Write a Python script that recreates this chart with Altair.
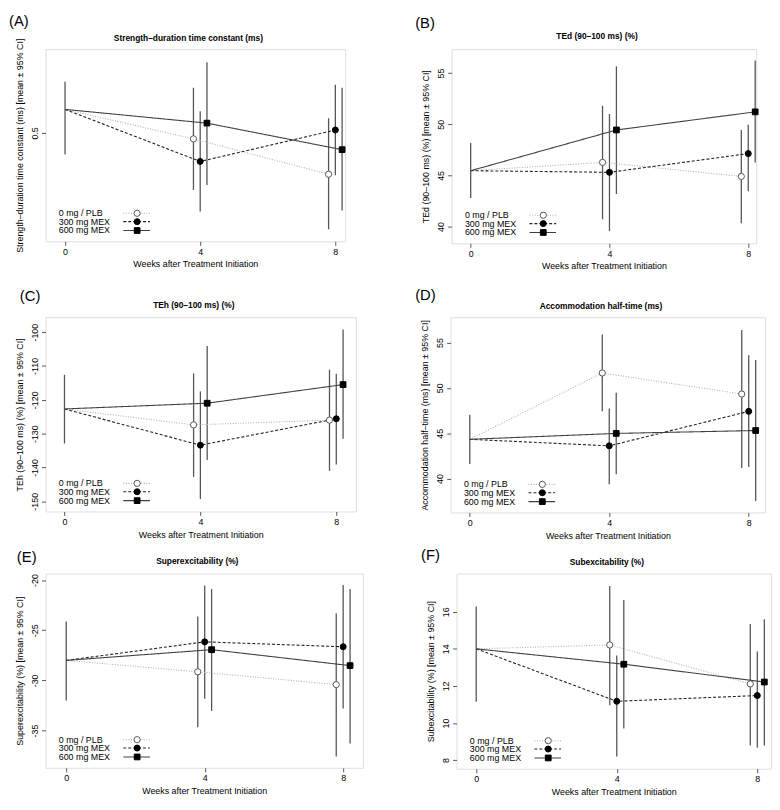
import altair as alt
import pandas as pd

FONT = "Liberation Sans"

groups = ["0 mg / PLB", "300 mg MEX", "600 mg MEX"]
weeks = [4, 8]
dodge = [-0.2, 0.0, 0.2]
x_ticks = [0, 4, 8]
x_title = "Weeks after Treatment Initiation"

# ---- Panel A: Strength-duration time constant (ms)
a_base = [0.524, 0.478, 0.552]          # mean, lower, upper at week 0
a_mean = [[0.494, 0.458], [0.471, 0.503], [0.510, 0.483]]
a_lo = [[0.442, 0.402], [0.420, 0.457], [0.447, 0.421]]
a_hi = [[0.546, 0.515], [0.522, 0.549], [0.572, 0.546]]
a_ticks = [0.5]

# ---- Panel B: TEd (90-100 ms) (%)
b_base = [45.46, 42.8, 48.16]
b_mean = [[46.27, 44.9], [45.3, 47.13], [49.44, 51.21]]
b_lo = [[40.7, 40.33], [39.56, 43.44], [43.18, 46.26]]
b_hi = [[51.8, 49.44], [51.0, 49.96], [55.65, 56.22]]
b_ticks = [40, 45, 50, 55]

# ---- Panel C: TEh (90-100 ms) (%)
c_base = [-122.7, -132.9, -112.6]
c_mean = [[-127.4, -126.0], [-133.4, -125.6], [-121.0, -115.5]]
c_lo = [[-142.8, -141.0], [-149.3, -139.1], [-137.8, -131.5]]
c_hi = [[-112.2, -111.1], [-117.5, -112.3], [-104.1, -99.2]]
c_ticks = [-150, -140, -130, -120, -110, -100]

# ---- Panel D: Accommodation half-time (ms)
d_base = [44.33, 41.62, 47.04]
d_mean = [[51.64, 49.32], [43.61, 47.41], [44.98, 45.30]]
d_lo = [[47.41, 41.16], [39.38, 41.29], [40.47, 37.54]]
d_hi = [[55.87, 56.37], [47.73, 53.59], [49.47, 53.08]]
d_ticks = [40, 45, 50, 55]

# ---- Panel E: Superexcitability (%)
e_base = [-28.01, -32.0, -24.12]
e_mean = [[-29.15, -30.42], [-26.16, -26.65], [-26.94, -28.53]]
e_lo = [[-34.67, -37.59], [-31.84, -32.81], [-33.05, -36.29]]
e_hi = [[-23.63, -23.31], [-20.55, -20.49], [-20.88, -20.88]]
e_ticks = [-35, -30, -25, -20]

# ---- Panel F: Subexcitability (%)
f_base = [14.0, 11.14, 16.29]
f_mean = [[14.21, 12.11], [11.17, 11.48], [13.17, 12.21]]
f_lo = [[10.95, 8.79], [8.19, 8.66], [9.70, 8.79]]
f_hi = [[17.39, 15.34], [13.64, 13.86], [16.64, 15.6]]
f_ticks = [8, 10, 12, 14, 16]

CI = "  [mean \u00b1 95% CI]"

color_scale = alt.Scale(domain=groups, range=["#b0b0b0", "#222222", "#404040"])
dash_scale = alt.Scale(domain=groups, range=[[1, 1.6], [3, 2], [1, 0]])
shape_scale = alt.Scale(domain=groups, range=["circle", "circle", "square"])
fill_scale = alt.Scale(domain=groups, range=["white", "black", "black"])
stroke_scale = alt.Scale(domain=groups, range=["#555555", "black", "black"])
size_scale = alt.Scale(domain=groups, range=[40, 34, 50])


def make_panel(letter, title, ytitle, base, mean, lo, hi, yticks,
               xdom, ydom, w, h, lab_dx, lab_dy, title_dy):
    line_rows, pt_rows, bar_rows = [], [], []
    bar_rows.append(dict(x=0.0, lo=base[1], hi=base[2]))
    for gi, g in enumerate(groups):
        line_rows.append(dict(group=g, x=0.0, y=base[0]))
        for wi, wk in enumerate(weeks):
            xx = wk + dodge[gi]
            line_rows.append(dict(group=g, x=xx, y=mean[gi][wi]))
            pt_rows.append(dict(group=g, x=xx, y=mean[gi][wi]))
            bar_rows.append(dict(x=xx, lo=lo[gi][wi], hi=hi[gi][wi]))
    line_df = pd.DataFrame(line_rows)
    pt_df = pd.DataFrame(pt_rows)
    bar_df = pd.DataFrame(bar_rows)

    xs = alt.Scale(domain=xdom, nice=False, zero=False)
    ys = alt.Scale(domain=ydom, nice=False, zero=False)
    xax = alt.Axis(values=x_ticks, title=x_title, grid=False, domain=False,
                   tickSize=4, tickColor="#555555", labelPadding=2,
                   titlePadding=4, labelFontSize=9, titleFontSize=9,
                   titleFontWeight="normal", labelFont=FONT, titleFont=FONT,
                   labelColor="black", titleColor="black", labelExpr="'' + datum.value")
    yax = alt.Axis(values=yticks, title=ytitle, grid=False, domain=False,
                   tickSize=4, tickColor="#555555", labelPadding=2,
                   labelAngle=270, labelAlign="center", labelBaseline="bottom",
                   titlePadding=7, labelFontSize=9, titleFontSize=9,
                   titleFontWeight="normal", labelFont=FONT, titleFont=FONT,
                   labelColor="black", titleColor="black",
                   labelExpr="'' + datum.value", minExtent=14, maxExtent=14)

    X = lambda f: alt.X(f, scale=xs, axis=xax)
    Y = lambda f: alt.Y(f, scale=ys, axis=yax)

    bars = alt.Chart(bar_df).mark_rule(color="#555555", strokeWidth=1.3).encode(
        x=X("x:Q"), y=Y("lo:Q"), y2="hi:Q")
    lines = alt.Chart(line_df).mark_line(strokeWidth=1.1).encode(
        x=X("x:Q"), y=Y("y:Q"),
        color=alt.Color("group:N", scale=color_scale, legend=None),
        strokeDash=alt.StrokeDash("group:N", scale=dash_scale, legend=None))
    pts = alt.Chart(pt_df).mark_point(opacity=1, strokeWidth=1).encode(
        x=X("x:Q"), y=Y("y:Q"),
        shape=alt.Shape("group:N", scale=shape_scale, legend=None),
        fill=alt.Fill("group:N", scale=fill_scale, legend=None),
        stroke=alt.Stroke("group:N", scale=stroke_scale, legend=None),
        size=alt.Size("group:N", scale=size_scale, legend=None))

    layers = [bars, lines, pts]
    leg_y = [h - 28.5, h - 20, h - 11]
    for gi, g in enumerate(groups):
        ldf = pd.DataFrame({"group": [g]})
        layers.append(alt.Chart(ldf).mark_text(
            align="left", baseline="middle", fontSize=9, font=FONT, color="black"
        ).encode(x=alt.value(13.5), y=alt.value(leg_y[gi]), text="group:N"))
        layers.append(alt.Chart(ldf).mark_rule(strokeWidth=1.1).encode(
            x=alt.value(79), x2=alt.value(106), y=alt.value(leg_y[gi]),
            color=alt.Color("group:N", scale=color_scale, legend=None),
            strokeDash=alt.StrokeDash("group:N", scale=dash_scale, legend=None)))
        layers.append(alt.Chart(ldf).mark_point(opacity=1, strokeWidth=1).encode(
            x=alt.value(93), y=alt.value(leg_y[gi]),
            shape=alt.Shape("group:N", scale=shape_scale, legend=None),
            fill=alt.Fill("group:N", scale=fill_scale, legend=None),
            stroke=alt.Stroke("group:N", scale=stroke_scale, legend=None),
            size=alt.Size("group:N", scale=size_scale, legend=None)))
    lab_df = pd.DataFrame({"lab": ["(" + letter + ")"], "ttl": [title]})
    layers.append(alt.Chart(lab_df).mark_text(
        align="left", baseline="top", fontSize=15, font=FONT, color="black"
    ).encode(x=alt.value(lab_dx), y=alt.value(lab_dy), text="lab:N"))
    layers.append(alt.Chart(lab_df).mark_text(
        align="center", baseline="middle", fontSize=8.5, fontWeight="bold",
        font=FONT, color="black"
    ).encode(x=alt.value(w / 2 - 7), y=alt.value(title_dy), text="ttl:N"))

    return alt.layer(*layers).properties(width=w, height=h)


pA = make_panel("A", "Strength\u2013duration time constant (ms)",
                "Strength\u2013duration time constant (ms)" + CI,
                a_base, a_mean, a_lo, a_hi, a_ticks,
                [-0.58, 8.29], [0.3897, 0.5853], 304, 195, -37, -35, -11)
pB = make_panel("B", "TEd (90\u2013100 ms) (%)", "TEd (90\u2013100 ms) (%)" + CI,
                b_base, b_mean, b_lo, b_hi, b_ticks,
                [-0.55, 8.23], [38.36, 57.34], 309, 197, -37, -33, -13)
pC = make_panel("C", "TEh (90\u2013100 ms) (%)", "TEh (90\u2013100 ms) (%)" + CI,
                c_base, c_mean, c_lo, c_hi, c_ticks,
                [-0.56, 8.58], [-153.0, -95.6], 315, 197, -26, -29, -12)
pD = make_panel("D", "Accommodation half-time (ms)",
                "Accommodation half\u2013time (ms)" + CI,
                d_base, d_mean, d_lo, d_hi, d_ticks,
                [-0.55, 8.47], [36.27, 57.78], 319, 198, -36, -30, -11)
pE = make_panel("E", "Superexcitability (%)", "Superexcitability (%)" + CI,
                e_base, e_mean, e_lo, e_hi, e_ticks,
                [-0.60, 8.57], [-38.72, -19.35], 322, 197, -29, -24, -13)
pF = make_panel("F", "Subexcitability (%)", "Subexcitability (%)" + CI,
                f_base, f_mean, f_lo, f_hi, f_ticks,
                [-0.56, 8.39], [7.53, 18.06], 319, 198, -36, -26, -12)

row1 = alt.hconcat(pA, pB, spacing=67)
row2 = alt.hconcat(pC, pD, spacing=58)
row3 = alt.hconcat(pE, pF, spacing=57)

chart = alt.vconcat(
    row1,
    alt.vconcat(row2, row3, spacing=6),
    spacing=15,
).properties(padding=0).configure_view(
    stroke="#555555", strokeWidth=1).configure(background="white")

chart.save("out.html", embed_options={"renderer": "svg", "actions": False})
